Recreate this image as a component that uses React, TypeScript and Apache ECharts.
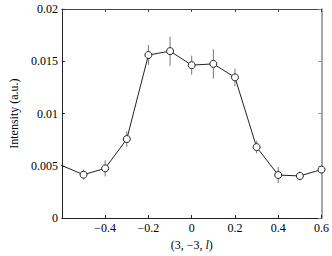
import React, { useEffect, useRef } from "react";
import * as echarts from "echarts";

const qValues = [-0.7, -0.5, -0.4, -0.3, -0.2, -0.1, 0, 0.1, 0.2, 0.3, 0.4, 0.5, 0.6];
const intensity = [0.0059, 0.00415, 0.00476, 0.00756, 0.0156, 0.01597, 0.01463, 0.01475, 0.01346, 0.00679, 0.00412, 0.00403, 0.00464];
const errors = [0.0005, 0.00047, 0.00077, 0.00074, 0.00095, 0.0014, 0.00092, 0.0014, 0.00085, 0.0006, 0.00077, 0.00043, 0.00046];
const xTicks = [-0.6, -0.4, -0.2, 0, 0.2, 0.4, 0.6];
const yTicks = [0, 0.005, 0.01, 0.015, 0.02];

const FONT = "Liberation Serif";

export default function App() {
  const ref = useRef<HTMLDivElement>(null);
  useEffect(() => {
    if (!ref.current) return;
    const chart = echarts.init(ref.current, undefined, { renderer: "svg" });
    const xMin = xTicks[0];
    const xMax = xTicks[xTicks.length - 1];
    const xInt = Number((xTicks[1] - xTicks[0]).toFixed(3));
    const yMin = yTicks[0];
    const yMax = yTicks[yTicks.length - 1];
    const yInt = Number((yTicks[1] - yTicks[0]).toFixed(4));
    const fmtX = (v: number) => {
      const r = Number(v.toFixed(1));
      if (Math.abs(r - xMin) < 1e-9) return "";
      return r < 0 ? "\u2212" + Math.abs(r) : String(r);
    };
    const fmtY = (v: number) => String(Number(v.toFixed(3)));
    const pts = qValues.map((q, i) => [q, intensity[i]]);
    const bars = qValues.map((q, i) => [q, intensity[i] - errors[i], intensity[i] + errors[i]]);
    chart.setOption({
      animation: false,
      textStyle: { fontFamily: FONT },
      grid: { left: 46, right: 10, top: 9, bottom: 30, containLabel: false },
      xAxis: [
        {
          type: "value",
          min: xMin,
          max: xMax,
          interval: xInt,
          position: "bottom",
          name: "(3, \u22123, {i|l})",
          nameLocation: "middle",
          nameGap: 18,
          nameTextStyle: {
            fontFamily: FONT,
            fontSize: 12,
            color: "#000",
            rich: { i: { fontStyle: "italic", fontFamily: FONT, fontSize: 12, color: "#000" } },
          },
          axisLine: { show: true, onZero: false, lineStyle: { color: "#222", width: 1 } },
          axisTick: { show: true, inside: true, length: 3, lineStyle: { color: "#222" } },
          axisLabel: { formatter: fmtX, fontFamily: FONT, fontSize: 12, color: "#000", margin: 4 },
          splitLine: { show: false },
        },
        {
          type: "value",
          min: xMin,
          max: xMax,
          interval: xInt,
          position: "top",
          axisLine: { show: true, onZero: false, lineStyle: { color: "#444", width: 1 } },
          axisTick: { show: true, inside: true, length: 3, lineStyle: { color: "#444" } },
          axisLabel: { show: false },
          splitLine: { show: false },
        },
      ],
      yAxis: [
        {
          type: "value",
          min: yMin,
          max: yMax,
          interval: yInt,
          position: "left",
          name: "Intensity (a.u.)",
          nameLocation: "middle",
          nameGap: 35,
          nameTextStyle: { fontFamily: FONT, fontSize: 12, color: "#000" },
          axisLine: { show: true, onZero: false, lineStyle: { color: "#222", width: 1 } },
          axisTick: { show: true, inside: true, length: 3, lineStyle: { color: "#222" } },
          axisLabel: { formatter: fmtY, fontFamily: FONT, fontSize: 12, color: "#000", margin: 4 },
          splitLine: { show: false },
        },
        {
          type: "value",
          min: yMin,
          max: yMax,
          interval: yInt,
          position: "right",
          axisLine: { show: true, onZero: false, lineStyle: { color: "#888", width: 1.5 } },
          axisTick: { show: true, inside: true, length: 3, lineStyle: { color: "#888" } },
          axisLabel: { show: false },
          splitLine: { show: false },
        },
      ],
      series: [
        {
          type: "custom",
          clip: true,
          z: 1,
          data: bars,
          encode: { x: 0, y: [1, 2] },
          renderItem: (params: any, api: any) => {
            const x = api.value(0);
            const p1 = api.coord([x, api.value(1)]);
            const p2 = api.coord([x, api.value(2)]);
            return {
              type: "line",
              shape: { x1: p1[0], y1: p1[1], x2: p2[0], y2: p2[1] },
              style: { stroke: "#777", lineWidth: 1 },
            };
          },
        },
        {
          type: "line",
          clip: true,
          z: 2,
          data: pts,
          symbol: "circle",
          symbolSize: 7,
          showAllSymbol: true,
          lineStyle: { color: "#222", width: 1 },
          itemStyle: { color: "#fff", borderColor: "#222", borderWidth: 1 },
        },
      ],
    });
    return () => chart.dispose();
  }, []);
  return (
    <div
      ref={ref}
      style={{ position: "fixed", left: 0, top: 0, width: 332, height: 256, background: "#fff" }}
    />
  );
}
